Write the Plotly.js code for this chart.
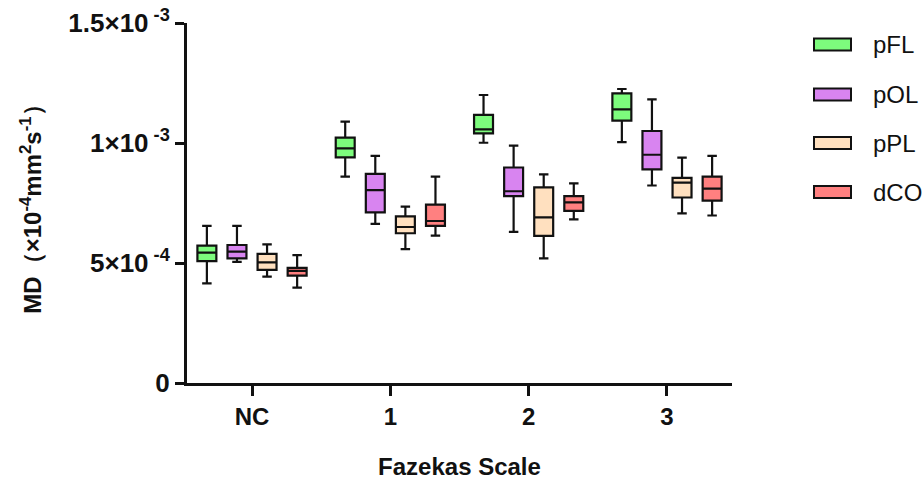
<!DOCTYPE html>
<html>
<head>
<meta charset="utf-8">
<script src="https://cdn.plot.ly/plotly-3.0.1.min.js"></script>
<style>html,body{margin:0;padding:0;background:#fff;}#chart{width:924px;height:482px;}</style>
</head>
<body>
<div id="chart"></div>
<script>
// Categories and series
const categories = ["NC", "1", "2", "3"];
const seriesNames = ["pFL", "pOL", "pPL", "dCO"];
const seriesColors = ["#7dfc7d", "#d884f0", "#ffe0bf", "#ff8080"];

// Box statistics (MD values)
const pFL_lower  = [4.15e-4, 8.60e-4, 10.01e-4, 10.04e-4];
const pFL_q1     = [5.08e-4, 9.40e-4, 10.40e-4, 10.93e-4];
const pFL_median = [5.43e-4, 9.78e-4, 10.57e-4, 11.40e-4];
const pFL_q3     = [5.72e-4, 10.22e-4, 11.17e-4, 12.07e-4];
const pFL_upper  = [6.55e-4, 10.89e-4, 12.00e-4, 12.25e-4];

const pOL_lower  = [5.05e-4, 6.63e-4, 6.30e-4, 8.23e-4];
const pOL_q1     = [5.19e-4, 7.11e-4, 7.79e-4, 8.90e-4];
const pOL_median = [5.47e-4, 8.04e-4, 7.99e-4, 9.51e-4];
const pOL_q3     = [5.75e-4, 8.71e-4, 8.98e-4, 10.50e-4];
const pOL_upper  = [6.55e-4, 9.46e-4, 9.89e-4, 11.82e-4];

const pPL_lower  = [4.43e-4, 5.58e-4, 5.19e-4, 7.07e-4];
const pPL_q1     = [4.71e-4, 6.24e-4, 6.13e-4, 7.73e-4];
const pPL_median = [5.03e-4, 6.50e-4, 6.90e-4, 8.35e-4];
const pPL_q3     = [5.38e-4, 6.94e-4, 8.15e-4, 8.55e-4];
const pPL_upper  = [5.78e-4, 7.35e-4, 8.69e-4, 9.39e-4];

const dCO_lower  = [3.97e-4, 6.14e-4, 6.82e-4, 6.98e-4];
const dCO_q1     = [4.47e-4, 6.55e-4, 7.17e-4, 7.60e-4];
const dCO_median = [4.67e-4, 6.75e-4, 7.53e-4, 8.10e-4];
const dCO_q3     = [4.80e-4, 7.43e-4, 7.79e-4, 8.60e-4];
const dCO_upper  = [5.33e-4, 8.60e-4, 8.32e-4, 9.46e-4];

// Y axis ticks
const yTickVals = [0, 5e-4, 1e-3, 1.5e-3];
const yTickText = ["0", "5×10<sup> -4</sup>", "1×10<sup> -3</sup>", "1.5×10<sup> -3</sup>"];

const stats = [
  [pFL_lower, pFL_q1, pFL_median, pFL_q3, pFL_upper],
  [pOL_lower, pOL_q1, pOL_median, pOL_q3, pOL_upper],
  [pPL_lower, pPL_q1, pPL_median, pPL_q3, pPL_upper],
  [dCO_lower, dCO_q1, dCO_median, dCO_q3, dCO_upper]
];

const FONT = "Liberation Sans, Arial, sans-serif";

const traces = seriesNames.map((name, i) => ({
  type: "box",
  name: name,
  x: categories,
  lowerfence: stats[i][0],
  q1: stats[i][1],
  median: stats[i][2],
  q3: stats[i][3],
  upperfence: stats[i][4],
  boxpoints: false,
  fillcolor: seriesColors[i],
  line: { color: "#111111", width: 2.2 },
  whiskerwidth: 0.5,
  showlegend: false,
  hoverinfo: "none"
}));

// Plot area geometry (pixels)
const L = 187, R = 192, T = 23, B = 99;
const W = 924 - L - R;
const H = 482 - T - B;
const px = x => (x - L) / W;
const py = y => (482 - B - y) / H;

const shapes = [];
const annotations = [];
const legendY = [44.5, 94.5, 143, 192];
seriesNames.forEach((name, i) => {
  shapes.push({
    type: "rect", xref: "paper", yref: "paper",
    x0: px(814), x1: px(851), y0: py(legendY[i] + 6), y1: py(legendY[i] - 6),
    fillcolor: seriesColors[i], line: { color: "#111111", width: 2 }
  });
  annotations.push({
    xref: "paper", yref: "paper", x: px(871), y: py(legendY[i]),
    xanchor: "left", yanchor: "middle", showarrow: false,
    text: name, font: { family: FONT, size: 24, color: "#111111" }
  });
});

const layout = {
  width: 924, height: 482,
  margin: { l: L, r: R, t: T, b: B, pad: 0 },
  paper_bgcolor: "#ffffff", plot_bgcolor: "#ffffff",
  boxmode: "group",
  boxgap: 0.13,
  boxgroupgap: 0.37,
  showlegend: false,
  font: { family: FONT, color: "#111111" },
  xaxis: {
    type: "category",
    range: [-0.47, 3.47],
    showline: true, linecolor: "#111111", linewidth: 3,
    ticks: "outside", ticklen: 10, tickwidth: 3, tickcolor: "#111111",
    tickfont: { family: FONT, size: 24, weight: "bold", color: "#111111" },
    showgrid: false, zeroline: false,
    title: { text: "Fazekas Scale", font: { family: FONT, size: 24, weight: "bold", color: "#111111" }, standoff: 30 }
  },
  yaxis: {
    range: [0, 1.5e-3],
    tickvals: yTickVals, ticktext: yTickText,
    showline: true, linecolor: "#111111", linewidth: 3,
    ticks: "outside", ticklen: 9, tickwidth: 3, tickcolor: "#111111",
    tickfont: { family: FONT, size: 26, weight: "bold", color: "#111111" },
    showgrid: false, zeroline: false,
    title: { text: "MD（×10<sup>-4</sup>mm<sup>2</sup>s<sup>-1</sup>）", font: { family: FONT, size: 24, weight: "bold", color: "#111111" }, standoff: 20 }
  },
  shapes: shapes,
  annotations: annotations
};

Plotly.newPlot("chart", traces, layout, { displayModeBar: false, staticPlot: true });
</script>
</body>
</html>
